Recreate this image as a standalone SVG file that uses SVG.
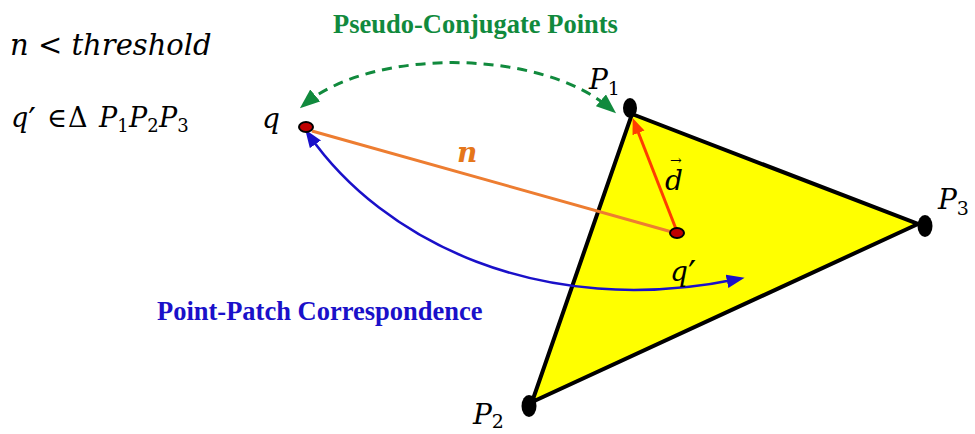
<svg xmlns="http://www.w3.org/2000/svg" width="975" height="434" viewBox="0 0 975 434">
<style>
.m{font-family:"DejaVu Serif","Liberation Serif",serif;font-style:italic;fill:#000}
.u{font-style:normal}
.sub{font-family:"DejaVu Serif","Liberation Serif",serif;font-style:normal}
.pr{font-family:"DejaVu Sans",sans-serif;font-style:normal}
.title{font-family:"Liberation Serif","Times New Roman",serif;font-weight:bold;font-size:26.5px}
.pt{fill:#c00000;stroke:#000;stroke-width:2}
.vx{fill:#000}
</style>
<defs>
<marker id="ag" markerUnits="userSpaceOnUse" markerWidth="20" markerHeight="16" refX="12" refY="7" orient="auto-start-reverse" viewBox="0 0 18 14"><path d="M0,0 L18,7 L0,14 z" fill="#118a3d"/></marker>
<marker id="ab" markerUnits="userSpaceOnUse" markerWidth="18" markerHeight="14" refX="10" refY="6" orient="auto-start-reverse" viewBox="0 0 16 12"><path d="M0,0 L16,6 L0,12 z" fill="#1a10c9"/></marker>
<marker id="ar" markerUnits="userSpaceOnUse" markerWidth="16" markerHeight="14" refX="9" refY="6" orient="auto" viewBox="0 0 15 12"><path d="M0,0 L15,6 L0,12 z" fill="#ff3d00"/></marker>
</defs>
<rect width="975" height="434" fill="#fff"/>

<g id="triangle">
<polygon points="632,114 918,224 532,402" fill="#ffff00" stroke="#000" stroke-width="4" stroke-linejoin="miter"/>
</g>

<g id="connectors">
<path id="n-line" d="M312,131 L672,232" stroke="#ed7d31" stroke-width="3" fill="none"/>
<path id="d-arrow" d="M676,229 L635,124" stroke="#ff3d00" stroke-width="3" fill="none" marker-end="url(#ar)"/>
<path id="pseudo-conjugate" d="M305,104 C372,48 540,48 611,109" stroke="#118a3d" stroke-width="3" fill="none" stroke-dasharray="10 7" marker-start="url(#ag)" marker-end="url(#ag)"/>
<path id="correspondence" d="M309,135 C382,240 540,320 738,279" stroke="#1a10c9" stroke-width="2.5" fill="none" marker-start="url(#ab)" marker-end="url(#ab)"/>
</g>

<g id="node-q">
<ellipse class="pt" cx="306" cy="127" rx="7" ry="5"/>
<text class="m" x="262" y="128" font-size="28">q</text>
</g>
<g id="node-qprime">
<ellipse class="pt" cx="677" cy="233" rx="7" ry="5"/>
<text class="m" x="670" y="281" font-size="28">q<tspan class="pr" font-size="36" dy="5">′</tspan></text>
</g>
<g id="node-P1">
<ellipse class="vx" cx="630" cy="108" rx="7" ry="10"/>
<text class="m" x="589" y="89" font-size="28">P<tspan class="sub" font-size="19" dy="6">1</tspan></text>
</g>
<g id="node-P2">
<ellipse class="vx" cx="529" cy="406" rx="7.5" ry="11"/>
<text class="m" x="473" y="424" font-size="28">P<tspan class="sub" font-size="19" dy="4">2</tspan></text>
</g>
<g id="node-P3">
<ellipse class="vx" cx="925" cy="226" rx="7.5" ry="11"/>
<text class="m" x="938" y="209" font-size="28">P<tspan class="sub" font-size="19" dy="6">3</tspan></text>
</g>

<g id="labels">
<text class="title" x="333" y="33" style="fill:#118a3d">Pseudo-Conjugate Points</text>
<text class="title" x="157" y="320" style="fill:#1a10c9">Point-Patch Correspondence</text>
<text class="m" x="457" y="162" font-size="28" font-weight="bold" style="fill:#e5761a">n</text>
<text class="m" x="665" y="190" font-size="28">d<tspan class="sub" font-size="14" x="670" y="165">→</tspan></text>
<text class="m" x="10" y="55" font-size="29">n <tspan class="u">&lt;</tspan> threshold</text>
<text class="m" x="11" y="127" font-size="27">q<tspan class="pr" font-size="34" dy="5">′</tspan><tspan class="u" x="47" dy="-5">∈</tspan><tspan class="u" x="68">Δ</tspan><tspan x="99">P</tspan><tspan class="sub" font-size="18" dy="5">1</tspan><tspan x="129" dy="-5">P</tspan><tspan class="sub" font-size="18" dy="5">2</tspan><tspan x="159" dy="-5">P</tspan><tspan class="sub" font-size="18" dy="5">3</tspan></text>
</g>
</svg>
